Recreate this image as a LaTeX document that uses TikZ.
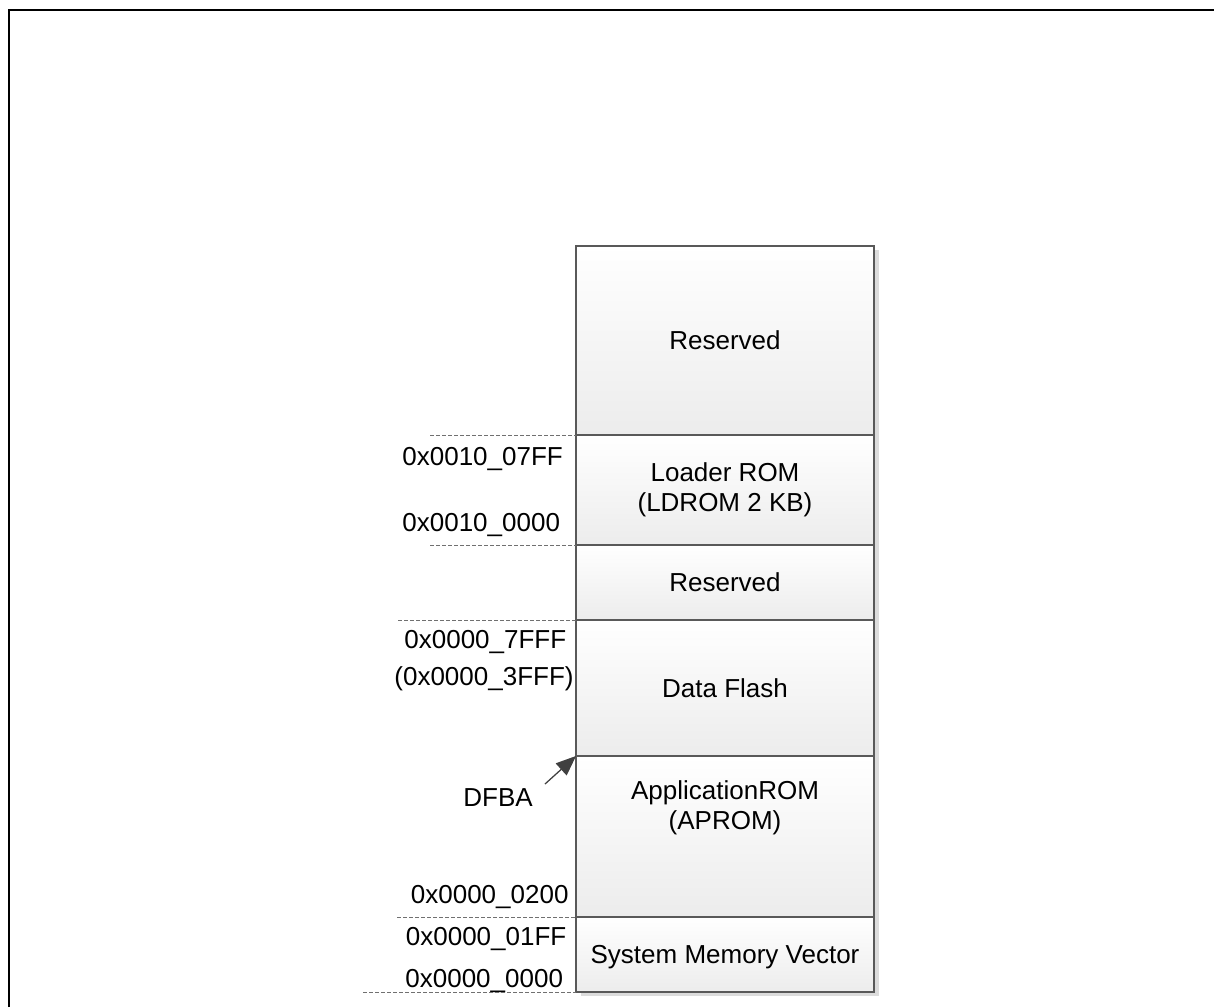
\documentclass[tikz,border=0pt]{standalone}
\usepackage{fontspec}
\setmainfont{Liberation Sans}
\usetikzlibrary{arrows.meta,shadows,backgrounds}
\definecolor{edgegray}{HTML}{595959}
\definecolor{dashgray}{HTML}{707070}
\definecolor{ghost}{HTML}{DCDCDC}
\definecolor{fillbottom}{HTML}{ECECEC}
\definecolor{arrowgray}{HTML}{404040}
\begin{document}
\begin{tikzpicture}[x=0.5pt,y=-0.5pt,
  font=\fontsize{13pt}{15pt}\selectfont,
  membox/.style={draw=edgegray, line width=0.6pt, top color=white,
    bottom color=fillbottom, minimum width=149pt, inner sep=0pt,
    outer sep=0pt, anchor=north, align=center,
    drop shadow={shadow xshift=2.5pt, shadow yshift=-2pt, fill=ghost, opacity=1}},
  addr/.style={anchor=base west, inner sep=0pt},
  dashline/.style={draw=dashgray, line width=0.5pt, dash pattern=on 2pt off 1pt},
  dashghost/.style={draw=ghost, line width=0.5pt, dash pattern=on 2pt off 1pt},
  pointer/.style={draw=arrowgray, line width=0.6pt,
    -{Triangle[length=10pt,width=8pt,fill=arrowgray]}},
]
\useasboundingbox (0,0) rectangle (1214,1007);

% outer frame (top and left edges)
\draw[line width=1pt] (9,1007) -- (9,10) -- (1214,10);

% memory regions, stacked from the top
\node[membox, minimum height=94.5pt] (res1) at (725,246) {Reserved};
\node[membox, minimum height=55pt] (ldrom) at (res1.south) {Loader ROM\\(LDROM 2 KB)};
\node[membox, minimum height=37.5pt] (res2) at (ldrom.south) {Reserved};
\node[membox, minimum height=68pt] (dflash) at (res2.south) {Data Flash};
\node[membox, minimum height=80.5pt] (aprom) at (dflash.south) {};
\node[membox, minimum height=37.5pt, text depth=0pt] (smv) at (aprom.south) {System Memory Vector};
\node[align=center, inner sep=0pt] (apromtext) at (725,808) {ApplicationROM\\(APROM)};

% address labels
\node[addr] (a1) at (402,465) {0x0010\_07FF};
\node[addr] (a2) at (402,531.5) {0x0010\_0000};
\node[addr] (a3) at (404,648) {0x0000\_7FFF};
\node[addr] (a4) at (394,685) {(0x0000\_3FFF)};
\node[addr] (dfba) at (463,806) {DFBA};
\node[addr] (a5) at (410.5,903) {0x0000\_0200};
\node[addr] (a6) at (405.5,945.5) {0x0000\_01FF};
\node[addr] (a7) at (405,987.5) {0x0000\_0000};

% boundary markers
\coordinate (d1) at (430,435);
\coordinate (d2) at (430,545);
\coordinate (d3) at (398,620);
\coordinate (d4) at (397,917);
\coordinate (d5) at (363,992);
\coordinate (tail) at (545,784);

\begin{scope}[on background layer]
  \begin{scope}[shift={(3,3.5)}]
    \draw[dashghost] (d1) -- (ldrom.north west);
    \draw[dashghost] (d2) -- (ldrom.south west);
    \draw[dashghost] (d3) -- (dflash.north west);
    \draw[dashghost] (d4) -- (smv.north west);
    \draw[dashghost] (d5) -- (smv.south west);
  \end{scope}
  \begin{scope}[shift={(4,4)}]
    \draw[pointer, draw=ghost, -{Triangle[length=10pt,width=8pt,fill=ghost]}] (tail) -- (dflash.south west);
  \end{scope}
\end{scope}

\draw[dashline] (d1) -- (ldrom.north west);
\draw[dashline] (d2) -- (ldrom.south west);
\draw[dashline] (d3) -- (dflash.north west);
\draw[dashline] (d4) -- (smv.north west);
\draw[dashline] (d5) -- (smv.south west);

% data flash base address pointer
\draw[pointer] (tail) -- (dflash.south west);
\end{tikzpicture}
\end{document}
